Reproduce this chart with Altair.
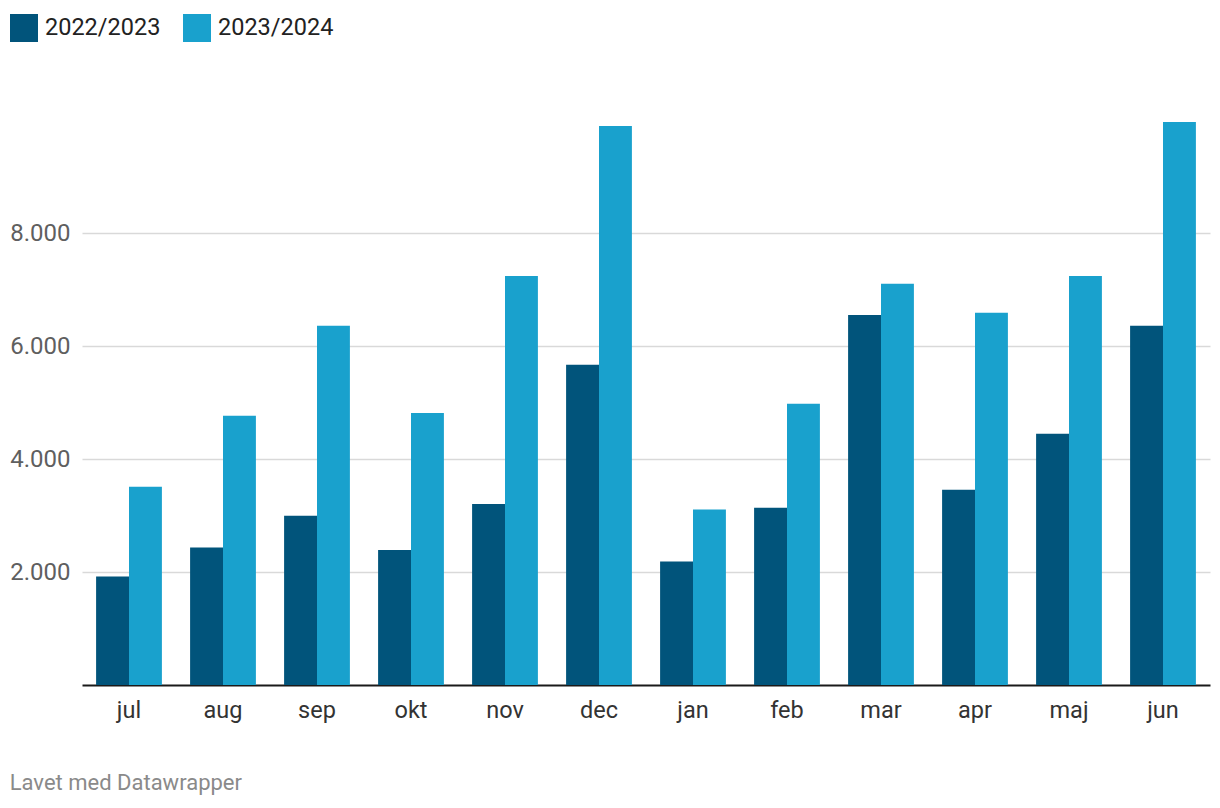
import altair as alt
import pandas as pd

months = ["jul", "aug", "sep", "okt", "nov", "dec", "jan", "feb", "mar", "apr", "maj", "jun"]
season_a = "2022/2023"
season_b = "2023/2024"
values_a = [1919, 2432, 2997, 2389, 3204, 5668, 2184, 3139, 6549, 3457, 4447, 6357]
values_b = [3510, 4766, 6357, 4814, 7239, 9894, 3104, 4978, 7100, 6587, 7241, 9965]
y_ticks = [2000, 4000, 6000, 8000]
colors = ["#01547b", "#19a1cd"]

rows = []
for m, a, b in zip(months, values_a, values_b):
    rows.append({"month": m, "season": season_a, "value": a})
    rows.append({"month": m, "season": season_b, "value": b})
df = pd.DataFrame(rows)

FONT = "Roboto"

bars = alt.Chart(df).mark_bar(strokeWidth=0).encode(
    x=alt.X("month:N", sort=months, title=None,
            scale=alt.Scale(paddingInner=0.3, paddingOuter=0.15),
            axis=alt.Axis(labelAngle=0, labelFontSize=23.5, labelColor="#333333",
                          labelFont=FONT, labelPadding=13, ticks=False,
                          domain=True, domainColor="#1a1a1a", domainWidth=2,
                          grid=False)),
    xOffset=alt.XOffset("season:N", sort=[season_a, season_b]),
    y=alt.Y("value:Q", title=None,
            scale=alt.Scale(domain=[0, 10000], nice=False),
            axis=alt.Axis(values=y_ticks, format=",.0f", labelExpr="replace(datum.label, ',', '.')",
                          labelFontSize=24, labelColor="#5f5f5f", labelFont=FONT,
                          labelPadding=12, ticks=False, domain=False,
                          grid=True, gridColor="#d9d9d9", gridWidth=1.6)),
    color=alt.Color("season:N", sort=[season_a, season_b],
                    scale=alt.Scale(domain=[season_a, season_b], range=colors),
                    legend=alt.Legend(title=None, orient="none", legendX=-72, legendY=-106,
                                      direction="horizontal", symbolType="square",
                                      symbolSize=784, symbolStrokeWidth=0,
                                      labelFontSize=23.5, labelFont=FONT, labelColor="#222222",
                                      labelOffset=7, columnPadding=22, padding=0)),
)

chart = bars.properties(
    width=1128,
    height=565,
    background="white",
    title=alt.Title("Lavet med Datawrapper", orient="bottom", anchor="start",
                    dx=0, offset=51, fontSize=22, font=FONT, color="#8a8a8a",
                    fontWeight="normal"),
    autosize=alt.AutoSizeParams(type="none"),
    padding={"left": 74, "top": 112, "right": 2, "bottom": 120},
).configure_view(strokeWidth=0, stroke=None)

chart.save("out.html", embed_options={"renderer": "svg", "actions": False})
